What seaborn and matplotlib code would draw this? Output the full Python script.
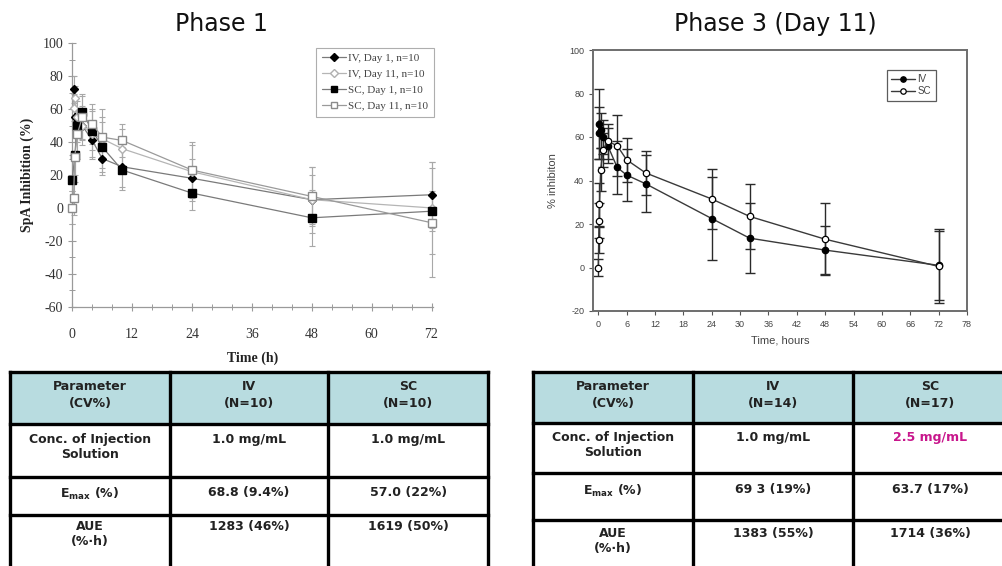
import matplotlib
matplotlib.use("Agg")
import matplotlib.pyplot as plt
import seaborn as sns
import pandas as pd
from matplotlib.patches import Rectangle
from matplotlib.ticker import MultipleLocator

# ---------------- Phase 1 data (mean, SD) ----------------
p1_iv_d1_t = [0.25, 0.5, 1, 2, 4, 6, 10, 24, 48, 72]
p1_iv_d1_y = [72, 55, 52, 50, 41, 30, 25, 18, 5, 8]
p1_iv_d1_e = [8, 10, 8, 8, 10, 10, 12, 12, 15, 20]

p1_iv_d11_t = [0.25, 0.5, 1, 2, 4, 6, 10, 24, 48, 72]
p1_iv_d11_y = [61, 67, 55, 50, 45, 42, 36, 22, 5, 0]
p1_iv_d11_e = [8, 7, 10, 12, 15, 18, 12, 18, 20, 28]

p1_sc_d1_t = [0, 0.5, 1, 2, 4, 6, 10, 24, 48, 72]
p1_sc_d1_y = [17, 32, 50, 58, 47, 37, 23, 9, -6, -2]
p1_sc_d1_e = [15, 12, 10, 10, 12, 15, 12, 10, 17, 12]

p1_sc_d11_t = [0, 0.25, 0.5, 1, 2, 4, 6, 10, 24, 48, 72]
p1_sc_d11_y = [0, 6, 31, 45, 55, 51, 43, 41, 23, 7, -9]
p1_sc_d11_e = [10, 10, 15, 15, 14, 12, 12, 10, 15, 18, 33]

p1_labels = ["IV, Day 1, n=10", "IV, Day 11, n=10", "SC, Day 1, n=10", "SC, Day 11, n=10"]

# ---------------- Phase 3 (Day 11) data ----------------
p3_iv_t = [0.08, 0.25, 0.5, 1, 2, 4, 6, 10, 24, 32, 48, 72]
p3_iv_y = [62, 66, 63, 60, 56, 46, 42.5, 38.5, 22.5, 13.5, 8, 1]
p3_iv_e = [12, 16, 8, 8, 8, 12, 12, 13, 19, 16, 11, 16]

p3_sc_t = [0, 0.08, 0.17, 0.25, 0.5, 1, 2, 4, 6, 10, 24, 32, 48, 72]
p3_sc_y = [0, 12.5, 21.5, 29, 45, 54, 58, 56, 49.5, 43.5, 31.5, 23.5, 13, 0.5]
p3_sc_e = [4, 6, 8, 10, 10, 8, 8, 14, 10, 10, 14, 15, 16.5, 17]

p3_labels = ["IV", "SC"]

# ---------------- PK/PD summary tables ----------------
tbl_header = ["Parameter\n(CV%)", "IV\n(N={})", "SC\n(N={})"]
tbl_rows = ["Conc. of Injection\nSolution", r"E$_{\mathbf{max}}$ (%)", "AUE\n(%·h)"]
p1_n = [10, 10]
p1_cells = [["1.0 mg/mL", "1.0 mg/mL"], ["68.8 (9.4%)", "57.0 (22%)"], ["1283 (46%)", "1619 (50%)"]]
p3_n = [14, 17]
p3_cells = [["1.0 mg/mL", "2.5 mg/mL"], ["69 3 (19%)", "63.7 (17%)"], ["1383 (55%)", "1714 (36%)"]]

sns.set_theme(style="white")
plt.rcParams["axes.unicode_minus"] = False
plt.rcParams["font.family"] = ["DejaVu Sans"]

W, H = 1002, 566
fig = plt.figure(figsize=(W / 100, H / 100), dpi=100)
fig.patch.set_facecolor("white")


def frac(x0, y0, x1, y1):
    return [x0 / W, 1 - y1 / H, (x1 - x0) / W, (y1 - y0) / H]


# ================= Phase 1 panel =================
ax1 = fig.add_axes(frac(72.3, 43.3, 433, 306.7))
ax1.set_facecolor("white")
serif = "Liberation Serif"

p1_series = [
    (p1_iv_d1_t, p1_iv_d1_y, p1_iv_d1_e, "D", "black", "black", 4.5),
    (p1_iv_d11_t, p1_iv_d11_y, p1_iv_d11_e, "D", "white", "#b0b0b0", 4.5),
    (p1_sc_d1_t, p1_sc_d1_y, p1_sc_d1_e, "s", "black", "black", 5.8),
    (p1_sc_d11_t, p1_sc_d11_y, p1_sc_d11_e, "s", "white", "#8a8a8a", 5.8),
]
line_cols = ["#7a7a7a", "#b5b5b5", "#7a7a7a", "#9a9a9a"]
for (t, y, e, m, fc, ec, ms), lab, lc in zip(p1_series, p1_labels, line_cols):
    df = pd.DataFrame({"t": t, "y": y})
    ax1.errorbar(t, y, yerr=e, fmt="none", ecolor="#a8a8a8", elinewidth=0.8,
                 capsize=2.5, capthick=0.8, zorder=2, clip_on=False)
    sns.lineplot(data=df, x="t", y="y", ax=ax1, color=lc, lw=0.9, marker=m,
                 markersize=ms, markerfacecolor=fc, markeredgecolor=ec,
                 markeredgewidth=1.0, label=lab, errorbar=None, zorder=3,
                 clip_on=False)

ax1.set_xlim(0, 72.3)
ax1.set_ylim(-60, 100)
ax1.xaxis.set_major_locator(MultipleLocator(12))
ax1.xaxis.set_minor_locator(MultipleLocator(4))
ax1.yaxis.set_major_locator(MultipleLocator(20))
ax1.yaxis.set_minor_locator(MultipleLocator(10))
for s in ["top", "right"]:
    ax1.spines[s].set_visible(False)
for s in ["left", "bottom"]:
    ax1.spines[s].set_color("#9a9a9a")
    ax1.spines[s].set_linewidth(0.9)
ax1.tick_params(axis="both", which="major", direction="inout", length=6, width=0.8,
                color="#9a9a9a", labelsize=10, labelcolor="#333333", bottom=True, left=True)
ax1.tick_params(axis="both", which="minor", direction="inout", length=4, width=0.7,
                color="#9a9a9a", bottom=True, left=True)
ax1.tick_params(axis="x", which="major", pad=12)
for lb in ax1.get_xticklabels() + ax1.get_yticklabels():
    lb.set_fontfamily(serif)
ax1.set_xlabel("Time (h)", fontfamily=serif, fontweight="bold", fontsize=10, color="#222222", labelpad=8)
ax1.set_ylabel("SpA Inhibition (%)", fontfamily=serif, fontweight="bold", fontsize=10, color="#222222", labelpad=6)
leg1 = ax1.legend(loc="upper left", bbox_to_anchor=(316 / W, 1 - 48 / H),
                  bbox_transform=fig.transFigure, frameon=True, fancybox=False,
                  prop={"family": serif, "size": 8}, labelcolor="#444444",
                  handlelength=2.2, handletextpad=0.2, borderpad=0.5, labelspacing=0.55,
                  borderaxespad=0, markerscale=0.8)
leg1.get_frame().set_edgecolor("#9a9a9a")
leg1.get_frame().set_linewidth(0.8)

fig.text(221 / W, 1 - 24 / H, "Phase 1", ha="center", va="center", fontsize=17, color="#111111")

# ================= Phase 3 panel =================
ax3 = fig.add_axes(frac(593.3, 50, 967, 311))
ax3.set_facecolor("white")
sans = "Liberation Sans"
p3_series = [
    (p3_iv_t, p3_iv_y, p3_iv_e, "black"),
    (p3_sc_t, p3_sc_y, p3_sc_e, "white"),
]
for (t, y, e, fc), lab in zip(p3_series, p3_labels):
    df = pd.DataFrame({"t": t, "y": y})
    ax3.errorbar(t, y, yerr=e, fmt="none", ecolor="#2a2a2a", elinewidth=1.0,
                 capsize=3.5, capthick=1.0, zorder=2)
    sns.lineplot(data=df, x="t", y="y", ax=ax3, color="#3a3a3a", lw=1.0, marker="o",
                 markersize=4.6, markerfacecolor=fc, markeredgecolor="black",
                 markeredgewidth=0.9, label=lab, errorbar=None, zorder=3)

ax3.set_xlim(-1.06, 78)
ax3.set_ylim(-20, 100)
ax3.set_xticks(list(range(0, 79, 6)))
ax3.set_yticks(list(range(-20, 101, 20)))
for s in ax3.spines.values():
    s.set_visible(True)
    s.set_color("#6e6e6e")
    s.set_linewidth(1.4)
ax3.tick_params(axis="both", direction="out", length=3, width=0.8, color="#555555",
                labelsize=6.5, labelcolor="#444444", bottom=True, left=True)
for lb in ax3.get_xticklabels() + ax3.get_yticklabels():
    lb.set_fontfamily(sans)
ax3.set_xlabel("Time, hours", fontfamily=sans, fontsize=8, color="#444444", labelpad=5)
ax3.set_ylabel("% inhibiton", fontfamily=sans, fontsize=8, color="#444444", labelpad=8)
leg3 = ax3.legend(loc="upper left", bbox_to_anchor=(887 / W, 1 - 70 / H),
                  bbox_transform=fig.transFigure, frameon=True, fancybox=False,
                  prop={"family": sans, "size": 7}, labelcolor="#444444",
                  handlelength=2.4, handletextpad=0.3, borderpad=0.45, labelspacing=0.2,
                  borderaxespad=0, markerscale=0.85)
leg3.get_frame().set_edgecolor("#333333")
leg3.get_frame().set_linewidth(0.9)

fig.text(775 / W, 1 - 24 / H, "Phase 3 (Day 11)", ha="center", va="center", fontsize=17, color="#111111")

# ================= Summary tables =================
axt = fig.add_axes([0, 0, 1, 1], zorder=-1)
axt.set_xlim(0, W)
axt.set_ylim(H, 0)
axt.axis("off")
axt.patch.set_alpha(0)

header_fill = "#b8dce0"
lw = 2.4


def draw_table(xs, ys, ns, cells, text_y, highlight=None):
    # header background
    axt.add_patch(Rectangle((xs[0], ys[0]), xs[-1] - xs[0], ys[1] - ys[0],
                            facecolor=header_fill, edgecolor="none", zorder=1))
    for x in xs:
        axt.plot([x, x], [ys[0], ys[-1]], color="black", lw=lw, zorder=3,
                 solid_capstyle="projecting")
    for y in ys:
        axt.plot([xs[0], xs[-1]], [y, y], color="black", lw=lw, zorder=3,
                 solid_capstyle="projecting")
    cx = [(xs[i] + xs[i + 1]) / 2 for i in range(3)]
    hdr = [tbl_header[0], tbl_header[1].format(ns[0]), tbl_header[2].format(ns[1])]
    for c, txt in zip(cx, hdr):
        axt.text(c, text_y[0], txt, ha="center", va="top", fontsize=9,
                 fontweight="bold", color="#222222", linespacing=1.35, zorder=4)
    for r in range(3):
        axt.text(cx[0], text_y[r + 1], tbl_rows[r], ha="center", va="top", fontsize=9,
                 fontweight="bold", color="#222222", linespacing=1.2, zorder=4)
        for c in range(2):
            col = "#c8168c" if highlight == (r, c) else "#222222"
            axt.text(cx[c + 1], text_y[r + 1], cells[r][c], ha="center", va="top",
                     fontsize=9, fontweight="bold", color=col, zorder=4)


draw_table([10, 170, 328.3, 488.3], [372.3, 424, 477, 515, 570], p1_n, p1_cells,
           [380, 433, 486, 520])
draw_table([532.7, 693.3, 853.3, 1006.7], [372.3, 423.3, 473.3, 520, 570], p3_n, p3_cells,
           [380, 431, 483, 527], highlight=(0, 1))

fig.savefig("out.png", dpi=100, facecolor="white")
